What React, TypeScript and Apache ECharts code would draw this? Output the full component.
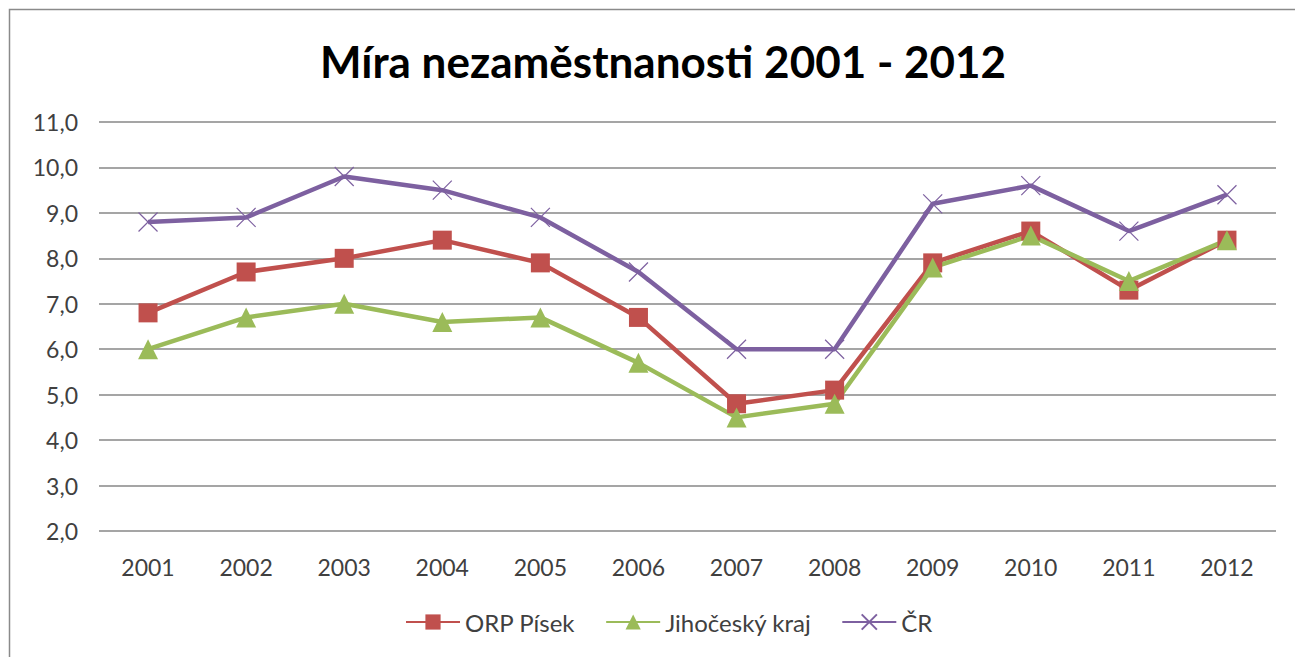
import React, { useEffect, useRef } from "react";
import * as echarts from "echarts";

const categories = ["2001", "2002", "2003", "2004", "2005", "2006", "2007", "2008", "2009", "2010", "2011", "2012"];
const orpPisek = [6.8, 7.7, 8.0, 8.4, 7.9, 6.7, 4.8, 5.1, 7.9, 8.6, 7.3, 8.4];
const jihocesky = [6.0, 6.7, 7.0, 6.6, 6.7, 5.7, 4.5, 4.8, 7.8, 8.5, 7.5, 8.4];
const cr = [8.8, 8.9, 9.8, 9.5, 8.9, 7.7, 6.0, 6.0, 9.2, 9.6, 8.6, 9.4];
const seriesNames = ["ORP Písek", "Jihočeský kraj", "ČR"];
const yMin = 2;
const yMax = 11;
const yInterval = 1;

const FONT = "Lato";

export default function App() {
  const ref = useRef<HTMLDivElement>(null);
  useEffect(() => {
    if (!ref.current) return;
    const chart = echarts.init(ref.current, undefined, { renderer: "svg" });
    chart.setOption({
      animation: false,
      backgroundColor: "#ffffff",
      textStyle: { fontFamily: FONT },
      title: {
        text: "Míra nezaměstnanosti 2001 - 2012",
        left: 315,
        top: 34,
        textStyle: { fontFamily: FONT, fontSize: 44, fontWeight: "bold", color: "#000000" },
      },
      graphic: [
        {
          type: "rect",
          shape: { x: 9.5, y: 9.5, width: 1300, height: 660 },
          style: { fill: "none", stroke: "#8a8a8a", lineWidth: 1.5 },
          silent: true,
        },
      ],
      grid: { left: 99, right: 19, top: 122, bottom: 126 },
      legend: {
        bottom: 18,
        left: 400,
        itemWidth: 54,
        itemHeight: 19,
        itemGap: 30,
        textStyle: { fontFamily: FONT, fontSize: 24, color: "#404040" },
        data: seriesNames,
      },
      xAxis: {
        type: "category",
        data: categories,
        boundaryGap: true,
        axisLine: { show: false },
        axisTick: { show: false },
        axisLabel: { fontFamily: FONT, fontSize: 23, color: "#404040", margin: 24 },
      },
      yAxis: {
        type: "value",
        min: yMin,
        max: yMax,
        interval: yInterval,
        axisLine: { show: false },
        axisTick: { show: false },
        axisLabel: {
          fontFamily: FONT,
          fontSize: 23,
          color: "#404040",
          margin: 21,
          formatter: (v: number) => v.toFixed(1).replace(".", ","),
        },
        splitLine: { lineStyle: { color: "#878787", width: 1.5 } },
      },
      series: [
        {
          name: seriesNames[0],
          type: "line",
          data: orpPisek,
          symbol: "rect",
          symbolSize: 19,
          lineStyle: { color: "#C0504D", width: 4.5 },
          itemStyle: { color: "#C0504D" },
        },
        {
          name: seriesNames[1],
          type: "line",
          data: jihocesky,
          symbol: "triangle",
          symbolSize: 20,
          lineStyle: { color: "#9BBB59", width: 4.5 },
          itemStyle: { color: "#9BBB59" },
        },
        {
          name: seriesNames[2],
          type: "line",
          data: cr,
          symbol: "path://M0,0L10,10M10,0L0,10",
          symbolSize: 19,
          lineStyle: { color: "#7D60A0", width: 4.5 },
          itemStyle: { color: "#7D60A0", borderColor: "#7D60A0", borderWidth: 1.2 },
        },
      ],
    });
    return () => chart.dispose();
  }, []);
  return (
    <div
      ref={ref}
      style={{ position: "fixed", left: 0, top: 0, width: 1295, height: 657 }}
    />
  );
}
